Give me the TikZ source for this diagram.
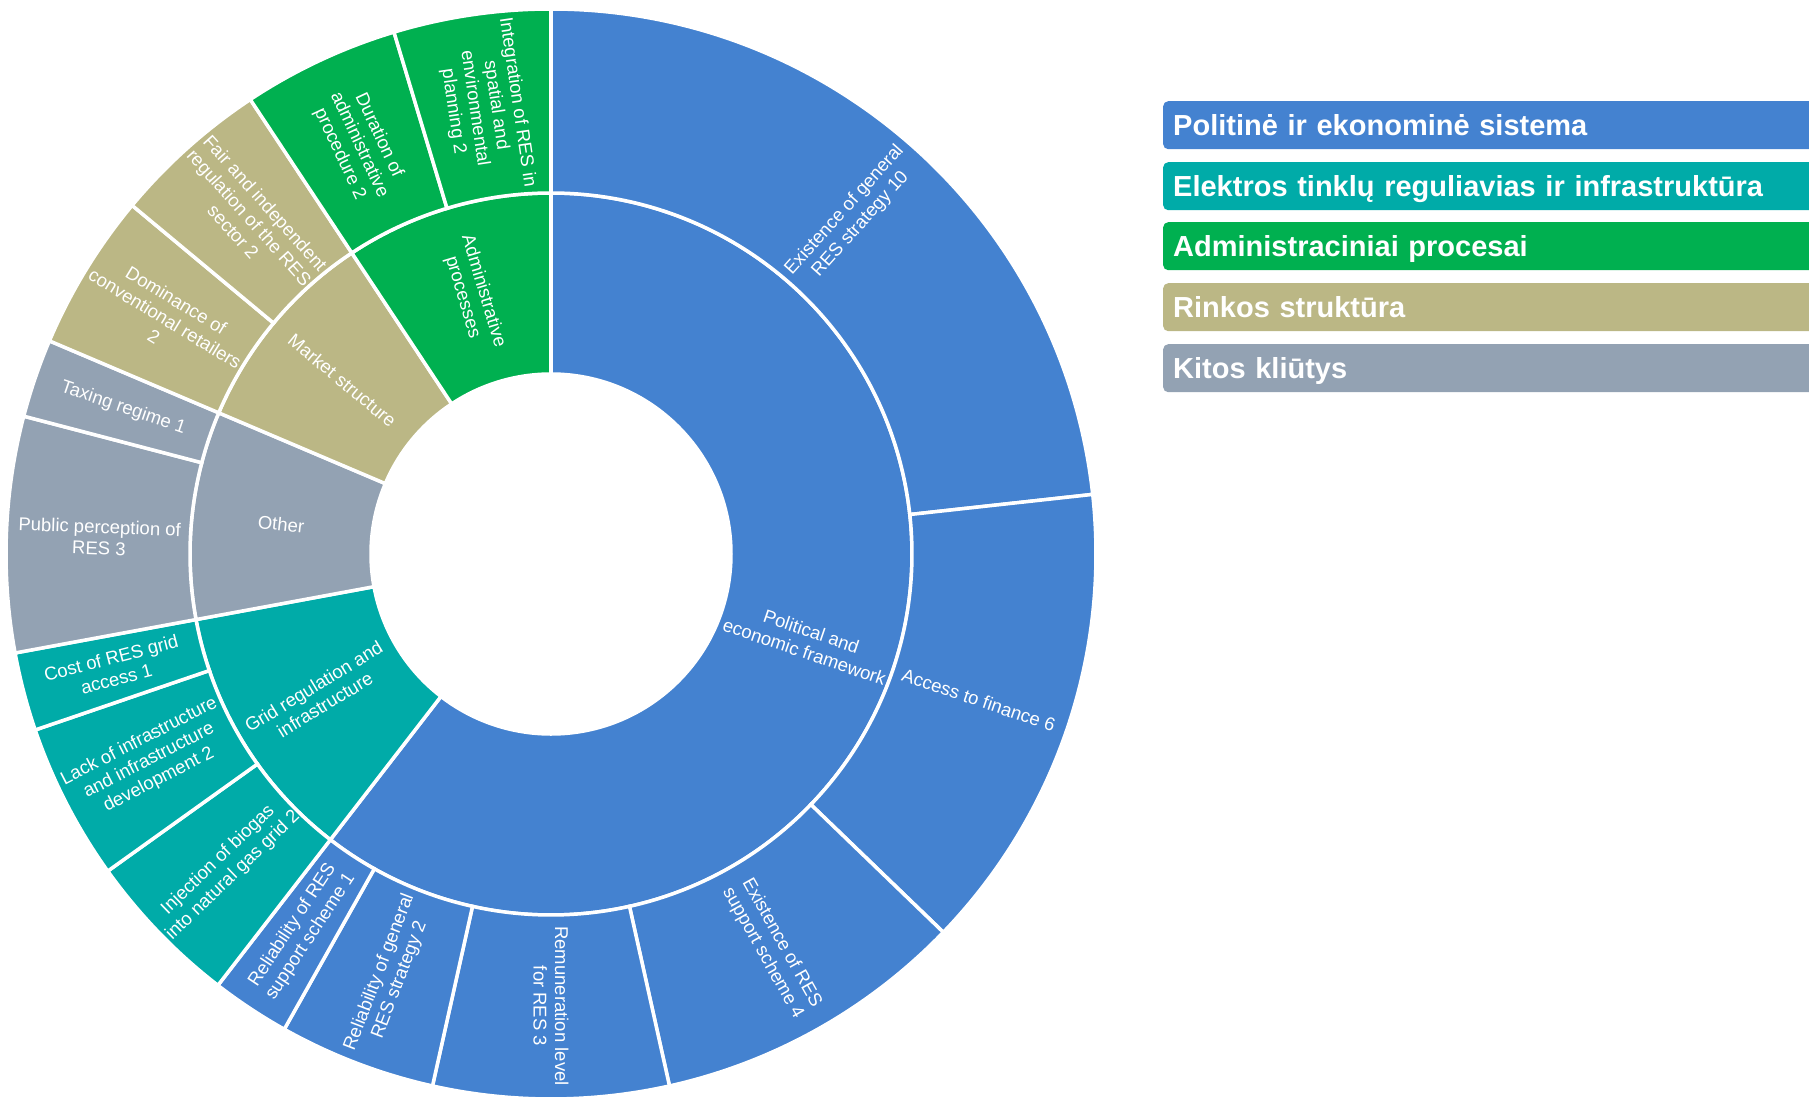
\documentclass[tikz,border=0pt]{standalone}
\usepackage{fontspec}
\setmainfont{Liberation Sans}
\usepackage{tikz}
\definecolor{polblue}{HTML}{4482D0}
\definecolor{gridteal}{HTML}{00ABA8}
\definecolor{admgreen}{HTML}{00B050}
\definecolor{mktkhaki}{HTML}{BBB785}
\definecolor{othgray}{HTML}{93A2B3}

\tikzset{
  piece/.style={draw=white, line width=3.5pt},
  lbl/.style={text=white, align=center, inner sep=0pt, font=\fontsize{18.5}{21.5}\selectfont},
  legbox/.style={anchor=north west, text=white, rounded corners=5pt, text width=700pt, align=left,
    inner xsep=10pt, inner ysep=0pt, minimum height=48pt, text height=21pt, text depth=0pt,
    font=\bfseries\fontsize{29}{30}\selectfont}
}

% one piece of a ring: colour, first unit, last unit, inner radius, outer radius (43 units = full turn)
\newcommand{\ringpiece}[5]{%
  \filldraw[piece, fill=#1] ({90-#2*360/43}:#4) arc[start angle={90-#2*360/43}, end angle={90-#3*360/43}, radius=#4]
    -- ({90-#3*360/43}:#5) arc[start angle={90-#3*360/43}, end angle={90-#2*360/43}, radius=#5] -- cycle;}

% label of a piece: name, middle unit, radius, text
\newcommand{\piecelabel}[4]{%
  \pgfmathsetmacro{\midang}{90-#2*360/43}
  \pgfmathsetmacro{\txtrot}{(\midang < -90.5) ? (\midang+180) : (\midang)}
  \node[lbl, rotate=\txtrot] (#1) at (\midang:#3) {#4};}

\begin{document}
\begin{tikzpicture}[x=1pt,y=1pt]
\useasboundingbox (-551,-542) rectangle (1258,554);

% inner ring
\ringpiece{polblue}{0}{26}{180}{361}
\ringpiece{gridteal}{26}{31}{180}{361}
\ringpiece{othgray}{31}{35}{180}{361}
\ringpiece{mktkhaki}{35}{39}{180}{361}
\ringpiece{admgreen}{39}{43}{180}{361}

% outer ring
\ringpiece{polblue}{0}{10}{361}{545}
\ringpiece{polblue}{10}{16}{361}{545}
\ringpiece{polblue}{16}{20}{361}{545}
\ringpiece{polblue}{20}{23}{361}{545}
\ringpiece{polblue}{23}{25}{361}{545}
\ringpiece{polblue}{25}{26}{361}{545}
\ringpiece{gridteal}{26}{28}{361}{545}
\ringpiece{gridteal}{28}{30}{361}{545}
\ringpiece{gridteal}{30}{31}{361}{545}
\ringpiece{othgray}{31}{34}{361}{545}
\ringpiece{othgray}{34}{35}{361}{545}
\ringpiece{mktkhaki}{35}{37}{361}{545}
\ringpiece{mktkhaki}{37}{39}{361}{545}
\ringpiece{admgreen}{39}{41}{361}{545}
\ringpiece{admgreen}{41}{43}{361}{545}

% labels, inner ring
\piecelabel{polit}{13}{271.5}{Political and\\economic framework}
\piecelabel{gridreg}{28.5}{271.5}{Grid regulation and\\infrastructure}
\piecelabel{other}{33}{271.5}{Other}
\piecelabel{market}{37}{271.5}{Market structure}
\piecelabel{admin}{41}{271.5}{Administrative\\processes}

% labels, outer ring
\piecelabel{exgen}{5}{452}{Existence of general\\RES strategy 10}
\piecelabel{finance}{13}{452}{Access to finance 6}
\piecelabel{exsup}{18}{452}{Existence of RES\\support scheme 4}
\piecelabel{remun}{21.5}{452}{Remuneration level\\for RES 3}
\piecelabel{relgen}{24}{452}{Reliability of general\\RES strategy 2}
\piecelabel{relsup}{25.5}{452}{Reliability of RES\\support scheme 1}
\piecelabel{biogas}{27}{452}{Injection of biogas\\into natural gas grid 2}
\piecelabel{lackinf}{29}{452}{Lack of infrastructure\\and infrastructure\\development 2}
\piecelabel{costgrid}{30.5}{452}{Cost of RES grid\\access 1}
\piecelabel{public}{32.5}{452}{Public perception of\\RES 3}
\piecelabel{taxing}{34.5}{452}{Taxing regime 1}
\piecelabel{domin}{36}{452}{Dominance of\\conventional retailers\\2}
\piecelabel{fairreg}{38}{452}{Fair and independent\\regulation of the RES\\sector 2}
\piecelabel{durat}{40}{452}{Duration of\\administrative\\procedure 2}
\piecelabel{integr}{42}{452}{Integration of RES in\\spatial and\\environmental\\planning 2}

% legend
\node[legbox, fill=polblue] (legpol) at (612,453) {Politinė ir ekonominė sistema};
\node[legbox, fill=gridteal] (leggrid) at (612,392) {Elektros tinklų reguliavias ir infrastruktūra};
\node[legbox, fill=admgreen] (legadm) at (612,332) {Administraciniai procesai};
\node[legbox, fill=mktkhaki] (legmkt) at (612,271) {Rinkos struktūra};
\node[legbox, fill=othgray] (legoth) at (612,210) {Kitos kliūtys};
\end{tikzpicture}
\end{document}
